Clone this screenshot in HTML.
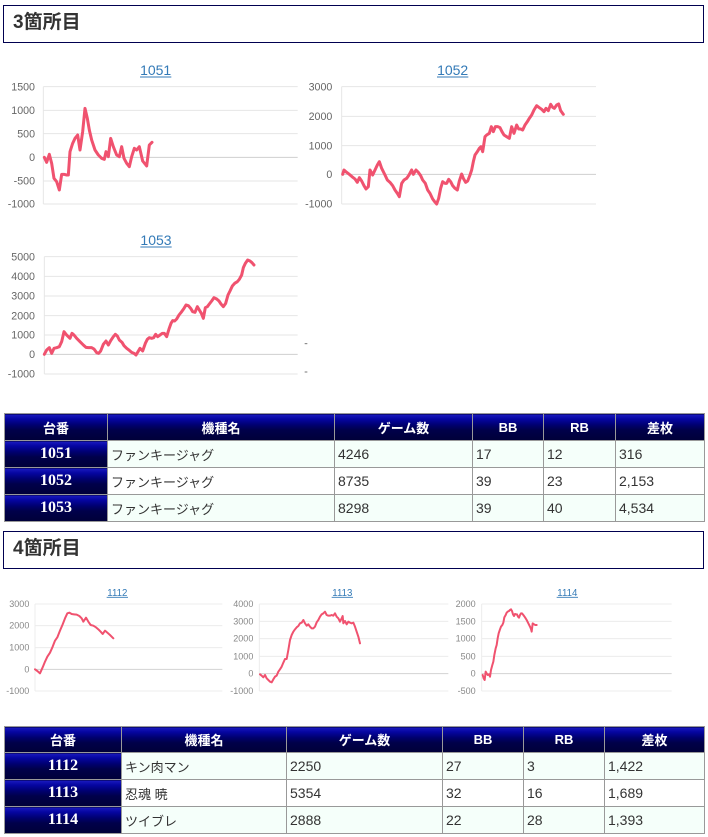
<!DOCTYPE html>
<html>
<head>
<meta charset="utf-8">
<style>
html,body{margin:0;padding:0;background:#fff;}
body{width:708px;height:837px;position:relative;overflow:hidden;font-family:"Liberation Sans","Noto Sans CJK JP",sans-serif;}
.hb{position:absolute;left:3px;width:699px;height:36px;border:1px solid #000050;background:#fff;}
.hb span{position:absolute;left:9px;top:6px;font-size:19px;font-weight:bold;color:#333;line-height:22px;}
svg{position:absolute;overflow:visible;}
table.t{position:absolute;left:4px;width:700px;table-layout:fixed;border-collapse:collapse;}
table.t th,table.t td{border:1px solid #999;padding:0;overflow:hidden;white-space:nowrap;}
table.t th{background:linear-gradient(to bottom,#1a1ac0 0%,#0505a0 18%,#000070 40%,#00004a 60%,#000038 100%);color:#fff;text-align:center;}
table.t tr.h th{font-family:"Liberation Sans","Noto Sans CJK JP",sans-serif;font-weight:bold;font-size:13px;}
table.t th.n{font-family:"Liberation Serif",serif;font-weight:bold;font-size:16px;}
table.t td{font-size:14px;color:#333;padding-left:3px;text-align:left;}
table.t td.j{font-size:13px;}
table.t tr.a td{background:#f5fffa;}
table.t tr.b td{background:#fff;}
</style>
</head>
<body>

<div class="hb" style="top:5px;"><span>3箇所目</span></div>

<!-- 1051 -->
<svg style="left:0;top:55px" width="300" height="160" viewBox="0 0 900 480">
  <text x="467" y="60" font-size="42" fill="#337ab7" text-anchor="middle" font-family="Liberation Sans">1051</text>
  <line x1="420" y1="66" x2="514" y2="66" stroke="#337ab7" stroke-width="3"/>
  <g stroke="#e6e6e6" stroke-width="3">
    <line x1="130" y1="95" x2="893" y2="95"/>
    <line x1="130" y1="166" x2="893" y2="166"/>
    <line x1="130" y1="236" x2="893" y2="236"/>
    <line x1="130" y1="378" x2="893" y2="378"/>
    <line x1="130" y1="447" x2="893" y2="447"/>
    <line x1="130" y1="95" x2="130" y2="447"/>
  </g>
  <line x1="130" y1="307" x2="893" y2="307" stroke="#cfcfcf" stroke-width="3"/>
  <g font-size="32" fill="#666" text-anchor="end" font-family="Liberation Sans">
    <text x="105" y="106">1500</text>
    <text x="105" y="177">1000</text>
    <text x="105" y="247">500</text>
    <text x="105" y="318">0</text>
    <text x="105" y="389">-500</text>
    <text x="105" y="458">-1000</text>
  </g>
  <polyline fill="none" stroke="#f0526f" stroke-width="9" stroke-linejoin="round" stroke-linecap="round" points="133,307 140,322 148,298 155,325 162,370 170,380 178,405 185,358 192,358 200,360 205,360 210,290 218,265 225,250 233,240 240,285 248,230 255,160 262,190 268,225 275,255 285,285 295,300 305,310 313,313 318,290 325,305 332,250 340,275 350,300 358,305 365,275 372,310 380,325 388,335 395,305 403,280 410,285 418,275 428,318 440,333 448,270 456,262"/>
</svg>

<!-- 1052 -->
<svg style="left:300px;top:55px" width="310" height="160" viewBox="0 0 930 480">
  <text x="458" y="60" font-size="42" fill="#337ab7" text-anchor="middle" font-family="Liberation Sans">1052</text>
  <line x1="411" y1="66" x2="505" y2="66" stroke="#337ab7" stroke-width="3"/>
  <g stroke="#e6e6e6" stroke-width="3">
    <line x1="125" y1="95" x2="888" y2="95"/>
    <line x1="125" y1="184" x2="888" y2="184"/>
    <line x1="125" y1="272" x2="888" y2="272"/>
    <line x1="125" y1="447" x2="888" y2="447"/>
    <line x1="125" y1="95" x2="125" y2="447"/>
  </g>
  <line x1="125" y1="358" x2="888" y2="358" stroke="#cfcfcf" stroke-width="3"/>
  <g font-size="32" fill="#666" text-anchor="end" font-family="Liberation Sans">
    <text x="97" y="106">3000</text>
    <text x="97" y="195">2000</text>
    <text x="97" y="283">1000</text>
    <text x="97" y="369">0</text>
    <text x="97" y="458">-1000</text>
  </g>
  <polyline fill="none" stroke="#f0526f" stroke-width="9" stroke-linejoin="round" stroke-linecap="round" points="128,358 132,345 140,352 148,358 156,365 165,372 172,382 178,368 185,378 192,392 198,402 205,395 210,345 218,360 225,345 232,330 238,320 245,340 255,360 262,375 270,382 278,392 285,405 292,415 298,425 305,385 312,375 320,370 327,360 335,345 340,358 348,345 355,352 362,362 368,375 376,385 383,405 390,415 398,432 404,440 410,447 416,430 422,400 428,380 435,385 440,385 446,373 452,380 458,392 465,400 472,405 478,378 485,357 490,370 497,382 503,378 510,360 515,345 520,320 525,300 532,290 538,280 543,275 548,290 555,245 560,240 568,235 574,215 580,230 586,215 593,215 600,218 606,230 612,240 620,245 628,250 635,215 642,235 650,210 656,222 662,222 668,225 675,210 682,200 688,190 695,180 702,165 710,152 718,158 725,163 732,170 738,160 745,167 752,148 758,157 763,160 770,150 776,147 782,167 790,178"/>
</svg>

<!-- 1053 -->
<svg style="left:0;top:225px" width="320" height="160" viewBox="0 0 960 480">
  <text x="468" y="60" font-size="42" fill="#337ab7" text-anchor="middle" font-family="Liberation Sans">1053</text>
  <line x1="421" y1="66" x2="515" y2="66" stroke="#337ab7" stroke-width="3"/>
  <g stroke="#e6e6e6" stroke-width="3">
    <line x1="133" y1="95" x2="893" y2="95"/>
    <line x1="133" y1="154" x2="893" y2="154"/>
    <line x1="133" y1="213" x2="893" y2="213"/>
    <line x1="133" y1="272" x2="893" y2="272"/>
    <line x1="133" y1="330" x2="893" y2="330"/>
    <line x1="133" y1="447" x2="893" y2="447"/>
    <line x1="133" y1="95" x2="133" y2="447"/>
  </g>
  <line x1="133" y1="388" x2="893" y2="388" stroke="#cfcfcf" stroke-width="3"/>
  <g font-size="32" fill="#666" text-anchor="end" font-family="Liberation Sans">
    <text x="105" y="106">5000</text>
    <text x="105" y="165">4000</text>
    <text x="105" y="224">3000</text>
    <text x="105" y="283">2000</text>
    <text x="105" y="341">1000</text>
    <text x="105" y="399">0</text>
    <text x="105" y="458">-1000</text>
  </g>
  <g stroke="#777" stroke-width="3">
    <line x1="914" y1="356" x2="922" y2="356"/>
    <line x1="914" y1="441" x2="922" y2="441"/>
  </g>
  <polyline fill="none" stroke="#f0526f" stroke-width="9" stroke-linejoin="round" stroke-linecap="round" points="133,388 140,375 148,368 155,385 162,370 170,368 178,365 185,350 192,320 198,328 205,335 210,340 216,325 222,330 230,340 240,350 250,360 258,367 265,368 275,368 282,372 290,383 296,385 302,378 310,358 318,348 325,360 332,347 340,335 346,328 352,333 358,345 366,352 372,362 380,370 388,376 395,382 402,385 408,390 414,380 420,370 428,378 436,355 442,343 448,338 455,340 461,338 467,328 473,335 480,330 487,325 493,325 500,335 507,312 513,295 518,287 524,288 530,282 537,270 545,260 552,250 558,240 565,242 572,250 578,260 585,262 592,245 598,255 604,265 610,280 616,248 622,245 628,237 635,228 642,218 650,222 657,228 663,237 670,245 677,235 684,210 690,198 697,183 704,175 712,170 718,163 725,150 730,128 736,115 743,105 750,108 756,113 762,120"/>
</svg>

<table class="t" style="top:413px;">
  <colgroup><col style="width:103px"><col style="width:227px"><col style="width:138px"><col style="width:71px"><col style="width:72px"><col style="width:89px"></colgroup>
  <tr class="h" style="height:27px"><th>台番</th><th>機種名</th><th>ゲーム数</th><th>BB</th><th>RB</th><th>差枚</th></tr>
  <tr class="a" style="height:27px"><th class="n">1051</th><td class="j">ファンキージャグ</td><td>4246</td><td>17</td><td>12</td><td>316</td></tr>
  <tr class="b" style="height:27px"><th class="n">1052</th><td class="j">ファンキージャグ</td><td>8735</td><td>39</td><td>23</td><td>2,153</td></tr>
  <tr class="a" style="height:27px"><th class="n">1053</th><td class="j">ファンキージャグ</td><td>8298</td><td>39</td><td>40</td><td>4,534</td></tr>
</table>

<div class="hb" style="top:531px;"><span>4箇所目</span></div>

<!-- 1112 -->
<svg style="left:0;top:580px" width="240" height="120" viewBox="0 0 720 360">
  <text x="352" y="48" font-size="29" fill="#337ab7" text-anchor="middle" font-family="Liberation Sans">1112</text>
  <line x1="320" y1="52" x2="384" y2="52" stroke="#337ab7" stroke-width="2.5"/>
  <g stroke="#ececec" stroke-width="3">
    <line x1="105" y1="72" x2="667" y2="72"/>
    <line x1="105" y1="137" x2="667" y2="137"/>
    <line x1="105" y1="203" x2="667" y2="203"/>
    <line x1="105" y1="333" x2="667" y2="333"/>
    <line x1="105" y1="72" x2="105" y2="333"/>
  </g>
  <line x1="105" y1="268" x2="667" y2="268" stroke="#d2d2d2" stroke-width="3"/>
  <g font-size="27" fill="#888" text-anchor="end" font-family="Liberation Sans">
    <text x="88" y="81">3000</text>
    <text x="88" y="146">2000</text>
    <text x="88" y="212">1000</text>
    <text x="88" y="277">0</text>
    <text x="88" y="342">-1000</text>
  </g>
  <polyline fill="none" stroke="#f0526f" stroke-width="6" stroke-linejoin="round" stroke-linecap="round" points="105,268 112,273 120,280 128,262 135,245 142,230 150,218 158,200 165,182 172,172 180,152 188,133 195,115 202,100 208,98 215,102 222,103 230,104 238,108 245,115 250,125 258,113 265,125 272,135 280,137 288,142 295,148 302,155 308,162 315,152 322,158 330,165 340,175"/>
</svg>

<!-- 1113 -->
<svg style="left:230px;top:580px" width="240" height="120" viewBox="0 0 720 360">
  <text x="337" y="48" font-size="29" fill="#337ab7" text-anchor="middle" font-family="Liberation Sans">1113</text>
  <line x1="305" y1="52" x2="369" y2="52" stroke="#337ab7" stroke-width="2.5"/>
  <g stroke="#ececec" stroke-width="3">
    <line x1="88" y1="72" x2="655" y2="72"/>
    <line x1="88" y1="124" x2="655" y2="124"/>
    <line x1="88" y1="176" x2="655" y2="176"/>
    <line x1="88" y1="229" x2="655" y2="229"/>
    <line x1="88" y1="333" x2="655" y2="333"/>
    <line x1="88" y1="72" x2="88" y2="333"/>
  </g>
  <line x1="88" y1="281" x2="655" y2="281" stroke="#d2d2d2" stroke-width="3"/>
  <g font-size="27" fill="#888" text-anchor="end" font-family="Liberation Sans">
    <text x="70" y="81">4000</text>
    <text x="70" y="133">3000</text>
    <text x="70" y="185">2000</text>
    <text x="70" y="238">1000</text>
    <text x="70" y="290">0</text>
    <text x="70" y="342">-1000</text>
  </g>
  <polyline fill="none" stroke="#f0526f" stroke-width="6" stroke-linejoin="round" stroke-linecap="round" points="90,283 95,287 100,292 105,285 110,295 115,300 120,305 125,307 130,298 135,290 140,287 145,275 150,268 155,260 160,248 165,237 170,237 175,210 180,180 185,165 190,155 195,148 200,142 205,138 210,130 215,128 220,120 225,130 230,137 235,133 240,140 245,145 250,145 255,140 260,127 265,120 270,110 275,103 280,100 285,95 290,105 295,107 300,107 305,105 310,107 315,100 320,110 325,115 330,125 335,115 338,108 340,130 345,123 350,133 355,125 360,128 365,130 370,128 375,140 380,155 385,170 390,190"/>
</svg>

<!-- 1114 -->
<svg style="left:450px;top:580px" width="240" height="120" viewBox="0 0 720 360">
  <text x="352" y="48" font-size="29" fill="#337ab7" text-anchor="middle" font-family="Liberation Sans">1114</text>
  <line x1="320" y1="52" x2="384" y2="52" stroke="#337ab7" stroke-width="2.5"/>
  <g stroke="#ececec" stroke-width="3">
    <line x1="95" y1="72" x2="665" y2="72"/>
    <line x1="95" y1="124" x2="665" y2="124"/>
    <line x1="95" y1="176" x2="665" y2="176"/>
    <line x1="95" y1="229" x2="665" y2="229"/>
    <line x1="95" y1="333" x2="665" y2="333"/>
    <line x1="95" y1="72" x2="95" y2="333"/>
  </g>
  <line x1="95" y1="281" x2="665" y2="281" stroke="#d2d2d2" stroke-width="3"/>
  <g font-size="27" fill="#888" text-anchor="end" font-family="Liberation Sans">
    <text x="77" y="81">2000</text>
    <text x="77" y="133">1500</text>
    <text x="77" y="185">1000</text>
    <text x="77" y="238">500</text>
    <text x="77" y="290">0</text>
    <text x="77" y="342">-500</text>
  </g>
  <polyline fill="none" stroke="#f0526f" stroke-width="6" stroke-linejoin="round" stroke-linecap="round" points="98,285 101,295 104,300 107,275 110,280 113,285 117,283 120,290 123,270 127,255 130,245 133,225 137,205 140,195 143,175 146,160 150,148 153,140 157,135 160,128 163,112 167,105 170,98 173,95 177,93 180,90 183,88 186,93 189,103 192,108 195,102 198,103 201,103 204,110 207,113 210,105 213,100 216,100 220,105 225,112 230,120 235,130 240,140 243,147 245,155 248,130 252,133 256,135 260,135"/>
</svg>

<table class="t" style="top:726px;">
  <colgroup><col style="width:117px"><col style="width:165px"><col style="width:156px"><col style="width:81px"><col style="width:81px"><col style="width:100px"></colgroup>
  <tr class="h" style="height:26px"><th>台番</th><th>機種名</th><th>ゲーム数</th><th>BB</th><th>RB</th><th>差枚</th></tr>
  <tr class="a" style="height:27px"><th class="n">1112</th><td class="j">キン肉マン</td><td>2250</td><td>27</td><td>3</td><td>1,422</td></tr>
  <tr class="b" style="height:27px"><th class="n">1113</th><td class="j">忍魂 暁</td><td>5354</td><td>32</td><td>16</td><td>1,689</td></tr>
  <tr class="a" style="height:27px"><th class="n">1114</th><td class="j">ツイブレ</td><td>2888</td><td>22</td><td>28</td><td>1,393</td></tr>
</table>

</body>
</html>
